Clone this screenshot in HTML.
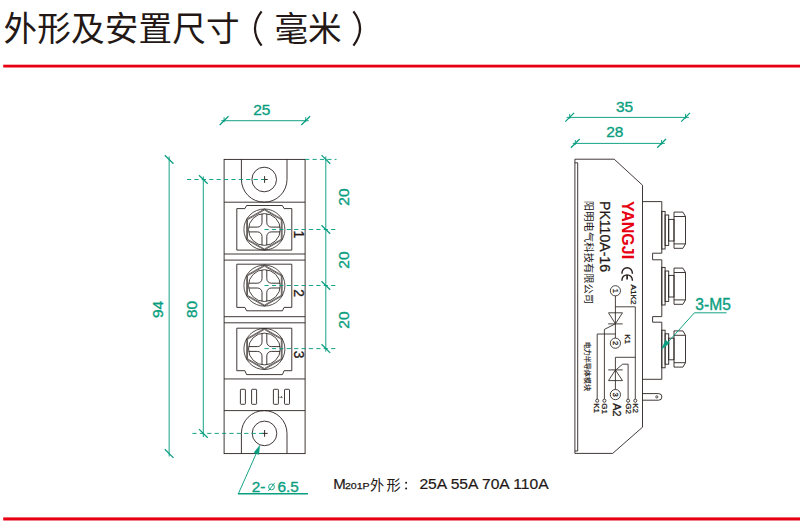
<!DOCTYPE html>
<html lang="zh"><head><meta charset="utf-8"><title>外形及安置尺寸</title>
<style>
html,body{margin:0;padding:0;background:#fff;}
body{width:800px;height:531px;overflow:hidden;}
svg{display:block;font-family:"Liberation Sans",sans-serif;}
</style></head><body>
<svg width="800" height="531" viewBox="0 0 800 531">
<rect width="800" height="531" fill="#fff"/>
<text x="3.5" y="41" font-size="33.6" fill="#231815" text-anchor="start" textLength="236" lengthAdjust="spacing" font-family="&quot;Liberation Sans&quot;, &quot;Noto Sans CJK SC&quot;, sans-serif">外形及安置尺寸</text>
<text x="274.5" y="41" font-size="33.6" fill="#231815" text-anchor="start" textLength="67" lengthAdjust="spacing" font-family="&quot;Liberation Sans&quot;, &quot;Noto Sans CJK SC&quot;, sans-serif">毫米</text>
<path d="M261.6 11.4Q248.3 28.5 261.6 45.6" stroke="#231815" stroke-width="2.2" fill="none" stroke-linecap="butt"/>
<path d="M353.4 11.4Q366.7 28.5 353.4 45.6" stroke="#231815" stroke-width="2.2" fill="none" stroke-linecap="butt"/>
<rect x="3.2" y="64.7" width="797" height="2.8" fill="#e60012"/>
<rect x="3.2" y="517.4" width="797" height="3.1" fill="#e60012"/>
<rect x="224.1" y="159.4" width="81" height="294.2" fill="none" stroke="#2a2320" stroke-width="0.9"/>
<line x1="224.1" y1="202.2" x2="305.1" y2="202.2" stroke="#2a2320" stroke-width="0.9" />
<line x1="224.1" y1="254" x2="305.1" y2="254" stroke="#2a2320" stroke-width="0.9" />
<line x1="224.1" y1="260.1" x2="305.1" y2="260.1" stroke="#2a2320" stroke-width="0.9" />
<line x1="224.1" y1="316.7" x2="305.1" y2="316.7" stroke="#2a2320" stroke-width="0.9" />
<line x1="224.1" y1="322.8" x2="305.1" y2="322.8" stroke="#2a2320" stroke-width="0.9" />
<line x1="224.1" y1="378.95" x2="305.1" y2="378.95" stroke="#2a2320" stroke-width="0.9" />
<line x1="224.1" y1="410.6" x2="305.1" y2="410.6" stroke="#2a2320" stroke-width="0.9" />
<path d="M241.4 159.4V179.4A22.8 22.8 0 0 0 287 179.4V159.4" stroke="#2a2320" stroke-width="0.9" fill="none" />
<path d="M241.4 453.6V433.4A22.8 22.8 0 0 1 287 433.4V453.6" stroke="#2a2320" stroke-width="0.9" fill="none" />
<circle cx="264.2" cy="179.5" r="12.3" stroke="#2a2320" stroke-width="0.9" fill="none"/>
<circle cx="264.5" cy="433.4" r="12.3" stroke="#2a2320" stroke-width="0.9" fill="none"/>
<line x1="261.5" y1="179.5" x2="267.7" y2="179.5" stroke="#2a2320" stroke-width="0.95" />
<line x1="264.6" y1="176.1" x2="264.6" y2="182.9" stroke="#2a2320" stroke-width="0.95" />
<line x1="261.5" y1="433.4" x2="267.7" y2="433.4" stroke="#2a2320" stroke-width="0.95" />
<line x1="264.6" y1="430" x2="264.6" y2="436.8" stroke="#2a2320" stroke-width="0.95" />
<path d="M236.8 208.6H244.9L246.6 205.5H282.4L284.1 208.6H291.8V250.1H236.8Z" stroke="#2a2320" stroke-width="0.9" fill="none" />
<path d="M236.8 264.2H291.8V307.4H284.1L282.4 310.8H246.6L244.9 307.4H236.8Z" stroke="#2a2320" stroke-width="0.9" fill="none" />
<path d="M236.8 328.2H291.8V370.7H284.1L282.4 374.6H246.6L244.9 370.7H236.8Z" stroke="#2a2320" stroke-width="0.9" fill="none" />
<circle cx="264.4" cy="229.5" r="20.5" stroke="#2a2320" stroke-width="0.8" fill="none"/>
<path d="M264.4 209L282.15 219.25L282.15 239.75L264.4 250L246.65 239.75L246.65 219.25Z" stroke="#2a2320" stroke-width="0.7" fill="none" />
<path d="M264.4 210L281.29 219.75L281.29 239.25L264.4 249L247.51 239.25L247.51 219.75Z" stroke="#2a2320" stroke-width="0.7" fill="none" />
<circle cx="264.4" cy="229.5" r="15.9" stroke="#2a2320" stroke-width="0.85" fill="none"/>
<path d="M266.8 245.2L266.8 236.4A4.5 4.5 0 0 1 271.3 231.9L280.1 231.9M262 245.2L262 236.4A4.5 4.5 0 0 0 257.5 231.9L248.7 231.9M262 213.8L262 222.6A4.5 4.5 0 0 1 257.5 227.1L248.7 227.1M266.8 213.8L266.8 222.6A4.5 4.5 0 0 0 271.3 227.1L280.1 227.1" stroke="#2a2320" stroke-width="0.9" fill="none" />
<circle cx="264.4" cy="285.6" r="20.5" stroke="#2a2320" stroke-width="0.8" fill="none"/>
<path d="M264.4 265.1L282.15 275.35L282.15 295.85L264.4 306.1L246.65 295.85L246.65 275.35Z" stroke="#2a2320" stroke-width="0.7" fill="none" />
<path d="M264.4 266.1L281.29 275.85L281.29 295.35L264.4 305.1L247.51 295.35L247.51 275.85Z" stroke="#2a2320" stroke-width="0.7" fill="none" />
<circle cx="264.4" cy="285.6" r="15.9" stroke="#2a2320" stroke-width="0.85" fill="none"/>
<path d="M266.8 301.3L266.8 292.5A4.5 4.5 0 0 1 271.3 288L280.1 288M262 301.3L262 292.5A4.5 4.5 0 0 0 257.5 288L248.7 288M262 269.9L262 278.7A4.5 4.5 0 0 1 257.5 283.2L248.7 283.2M266.8 269.9L266.8 278.7A4.5 4.5 0 0 0 271.3 283.2L280.1 283.2" stroke="#2a2320" stroke-width="0.9" fill="none" />
<circle cx="264.4" cy="349" r="20.5" stroke="#2a2320" stroke-width="0.8" fill="none"/>
<path d="M264.4 328.5L282.15 338.75L282.15 359.25L264.4 369.5L246.65 359.25L246.65 338.75Z" stroke="#2a2320" stroke-width="0.7" fill="none" />
<path d="M264.4 329.5L281.29 339.25L281.29 358.75L264.4 368.5L247.51 358.75L247.51 339.25Z" stroke="#2a2320" stroke-width="0.7" fill="none" />
<circle cx="264.4" cy="349" r="15.9" stroke="#2a2320" stroke-width="0.85" fill="none"/>
<path d="M266.8 364.7L266.8 355.9A4.5 4.5 0 0 1 271.3 351.4L280.1 351.4M262 364.7L262 355.9A4.5 4.5 0 0 0 257.5 351.4L248.7 351.4M262 333.3L262 342.1A4.5 4.5 0 0 1 257.5 346.6L248.7 346.6M266.8 333.3L266.8 342.1A4.5 4.5 0 0 0 271.3 346.6L280.1 346.6" stroke="#2a2320" stroke-width="0.9" fill="none" />
<rect x="240.4" y="389.3" width="5.0" height="15.0" rx="0.7" fill="none" stroke="#2a2320" stroke-width="0.9"/>
<rect x="251.6" y="389.3" width="5.0" height="15.0" rx="0.7" fill="none" stroke="#2a2320" stroke-width="0.9"/>
<rect x="273.4" y="389.3" width="5.0" height="15.0" rx="0.7" fill="none" stroke="#2a2320" stroke-width="0.9"/>
<rect x="284.5" y="389.3" width="5.0" height="15.0" rx="0.7" fill="none" stroke="#2a2320" stroke-width="0.9"/>
<path d="M280.5 397.6L281.4 396.2L282.4 397.6Z" stroke="#2a2320" stroke-width="0.4" fill="#2a2320" />
<line x1="278.4" y1="397.3" x2="279.6" y2="397.3" stroke="#2a2320" stroke-width="0.7" />
<text x="294" y="234.4" font-size="13.8" fill="#231815" text-anchor="middle" font-weight="normal" transform="rotate(90 294 234.4)" stroke="#231815" stroke-width="0.3">1</text>
<text x="294" y="293" font-size="13.8" fill="#231815" text-anchor="middle" font-weight="normal" transform="rotate(90 294 293)" stroke="#231815" stroke-width="0.3">2</text>
<text x="294" y="354.5" font-size="13.8" fill="#231815" text-anchor="middle" font-weight="normal" transform="rotate(90 294 354.5)" stroke="#231815" stroke-width="0.3">3</text>
<line x1="221.3" y1="120.7" x2="308.8" y2="120.7" stroke="#0a9e80" stroke-width="0.95" />
<line x1="219.7" y1="125" x2="228.5" y2="116.3" stroke="#0a9e80" stroke-width="1.25" />
<line x1="224.1" y1="117.3" x2="224.1" y2="122.1" stroke="#0a9e80" stroke-width="0.95" />
<line x1="301.3" y1="125" x2="310.1" y2="116.3" stroke="#0a9e80" stroke-width="1.25" />
<line x1="305.7" y1="117.3" x2="305.7" y2="122.1" stroke="#0a9e80" stroke-width="0.95" />
<text x="261.8" y="114.9" font-size="15.5" fill="#0a9e80" text-anchor="middle" font-weight="normal"  stroke="#0a9e80" stroke-width="0.35">25</text>
<line x1="169.15" y1="156.4" x2="169.15" y2="456.5" stroke="#0a9e80" stroke-width="0.95" />
<line x1="164.8" y1="155.2" x2="173.5" y2="163.8" stroke="#0a9e80" stroke-width="1.25" />
<line x1="164.8" y1="449.3" x2="173.5" y2="457.9" stroke="#0a9e80" stroke-width="1.25" />
<text x="163.3" y="309.4" font-size="15.5" fill="#0a9e80" text-anchor="middle" font-weight="normal" transform="rotate(-90 163.3 309.4)"  stroke="#0a9e80" stroke-width="0.35">94</text>
<line x1="203.3" y1="176.4" x2="203.3" y2="437" stroke="#0a9e80" stroke-width="0.95" />
<line x1="199" y1="175.2" x2="207.7" y2="183.8" stroke="#0a9e80" stroke-width="1.25" />
<line x1="199" y1="429.1" x2="207.7" y2="437.7" stroke="#0a9e80" stroke-width="1.25" />
<text x="197.2" y="309.4" font-size="15.5" fill="#0a9e80" text-anchor="middle" font-weight="normal" transform="rotate(-90 197.2 309.4)"  stroke="#0a9e80" stroke-width="0.35">80</text>
<line x1="187" y1="179.5" x2="264.5" y2="179.5" stroke="#0a9e80" stroke-width="0.95" stroke-dasharray="4.2 3.2"/>
<line x1="192.4" y1="433.4" x2="264.5" y2="433.4" stroke="#0a9e80" stroke-width="0.95" stroke-dasharray="4.2 3.2"/>
<line x1="325.8" y1="156.4" x2="325.8" y2="351.6" stroke="#0a9e80" stroke-width="0.95" />
<line x1="321.5" y1="155.1" x2="330.2" y2="163.7" stroke="#0a9e80" stroke-width="1.25" />
<line x1="321.5" y1="225.2" x2="330.2" y2="233.8" stroke="#0a9e80" stroke-width="1.25" />
<line x1="321.5" y1="281.2" x2="330.2" y2="289.8" stroke="#0a9e80" stroke-width="1.25" />
<line x1="321.5" y1="344.3" x2="330.2" y2="352.9" stroke="#0a9e80" stroke-width="1.25" />
<line x1="305.1" y1="159.4" x2="336.5" y2="159.4" stroke="#0a9e80" stroke-width="0.95" stroke-dasharray="4.2 3.2"/>
<line x1="264.5" y1="229.5" x2="336.5" y2="229.5" stroke="#0a9e80" stroke-width="0.95" stroke-dasharray="4.2 3.2"/>
<line x1="264.5" y1="285.5" x2="336.5" y2="285.5" stroke="#0a9e80" stroke-width="0.95" stroke-dasharray="4.2 3.2"/>
<line x1="264.5" y1="348.6" x2="336.5" y2="348.6" stroke="#0a9e80" stroke-width="0.95" stroke-dasharray="4.2 3.2"/>
<text x="349" y="197" font-size="15.5" fill="#0a9e80" text-anchor="middle" font-weight="normal" transform="rotate(-90 349 197)"  stroke="#0a9e80" stroke-width="0.35">20</text>
<text x="349" y="260" font-size="15.5" fill="#0a9e80" text-anchor="middle" font-weight="normal" transform="rotate(-90 349 260)"  stroke="#0a9e80" stroke-width="0.35">20</text>
<text x="349" y="320" font-size="15.5" fill="#0a9e80" text-anchor="middle" font-weight="normal" transform="rotate(-90 349 320)"  stroke="#0a9e80" stroke-width="0.35">20</text>
<path d="M238.4 493.7L258.0 449.5" stroke="#0a9e80" stroke-width="0.95" fill="none" />
<line x1="237.9" y1="493.7" x2="308" y2="493.7" stroke="#0a9e80" stroke-width="1.5" />
<path d="M259.9 445.2L258.7 454.6L254.0 452.5Z" stroke="#0a9e80" stroke-width="0.4" fill="#0a9e80" />
<text x="251.7" y="491.9" font-size="15.4" fill="#0a9e80" text-anchor="start" font-weight="normal"  stroke="#0a9e80" stroke-width="0.35">2-</text>
<circle cx="271.5" cy="486.9" r="2.9" stroke="#0a9e80" stroke-width="0.9" fill="none"/>
<line x1="268.3" y1="491" x2="274.7" y2="482.8" stroke="#0a9e80" stroke-width="0.9" />
<text x="277.4" y="491.9" font-size="15.4" fill="#0a9e80" text-anchor="start" font-weight="normal"  stroke="#0a9e80" stroke-width="0.35">6.5</text>
<text x="333.2" y="488.9" font-size="15" fill="#231815" text-anchor="start" font-weight="normal" stroke="#231815" stroke-width="0.2">M</text>
<text x="344.9" y="488.9" font-size="9.4" fill="#231815" text-anchor="start" font-weight="normal" textLength="24.8" lengthAdjust="spacingAndGlyphs" stroke="#231815" stroke-width="0.25">201P</text>
<text x="370" y="489.5" font-size="14.2" fill="#231815" text-anchor="start" textLength="30.6" lengthAdjust="spacing" font-family="&quot;Liberation Sans&quot;, &quot;Noto Sans CJK SC&quot;, sans-serif">外形</text>
<circle cx="406.1" cy="482.8" r="1.0" fill="#231815"/><circle cx="406.1" cy="488.5" r="1.0" fill="#231815"/>
<text x="419.4" y="488.9" font-size="15" fill="#231815" text-anchor="start" font-weight="normal" textLength="129.2" lengthAdjust="spacingAndGlyphs" stroke="#231815" stroke-width="0.2">25A 55A 70A 110A</text>
<path d="M574.9 159.2H614.2L642.5 185.2V427.2L612.7 453.4H574.9Z" stroke="#2a2320" stroke-width="0.9" fill="none" />
<path d="M574.9 162.8H577.7V451H574.9" stroke="#2a2320" stroke-width="0.9" fill="none" />
<path d="M642.5 201.6H661.8V253.2H652.6V259.8H661.8V316.6H652.6V322.2H661.8V379.3H642.5" stroke="#2a2320" stroke-width="0.9" fill="none" />
<rect x="661.8" y="211.4" width="3.3" height="37.6" fill="none" stroke="#2a2320" stroke-width="0.9"/>
<rect x="665.1" y="215" width="3.6" height="30.4" fill="none" stroke="#2a2320" stroke-width="0.9"/>
<rect x="668.7" y="219.4" width="5.3" height="21.6" fill="none" stroke="#2a2320" stroke-width="0.9"/>
<path d="M674 212.1H682.9L685.5 216.5V243.9L682.9 248.3H674Z" stroke="#2a2320" stroke-width="0.9" fill="none" />
<line x1="674" y1="216.5" x2="685.5" y2="216.5" stroke="#2a2320" stroke-width="0.9" />
<line x1="674" y1="243.9" x2="685.5" y2="243.9" stroke="#2a2320" stroke-width="0.9" />
<rect x="661.8" y="267.4" width="3.3" height="37.6" fill="none" stroke="#2a2320" stroke-width="0.9"/>
<rect x="665.1" y="271" width="3.6" height="30.4" fill="none" stroke="#2a2320" stroke-width="0.9"/>
<rect x="668.7" y="275.4" width="5.3" height="21.6" fill="none" stroke="#2a2320" stroke-width="0.9"/>
<path d="M674 268.1H682.9L685.5 272.5V299.9L682.9 304.3H674Z" stroke="#2a2320" stroke-width="0.9" fill="none" />
<line x1="674" y1="272.5" x2="685.5" y2="272.5" stroke="#2a2320" stroke-width="0.9" />
<line x1="674" y1="299.9" x2="685.5" y2="299.9" stroke="#2a2320" stroke-width="0.9" />
<rect x="661.8" y="330.2" width="3.3" height="37.6" fill="none" stroke="#2a2320" stroke-width="0.9"/>
<rect x="665.1" y="333.8" width="3.6" height="30.4" fill="none" stroke="#2a2320" stroke-width="0.9"/>
<rect x="668.7" y="338.2" width="5.3" height="21.6" fill="none" stroke="#2a2320" stroke-width="0.9"/>
<path d="M674 330.9H682.9L685.5 335.3V362.7L682.9 367.1H674Z" stroke="#2a2320" stroke-width="0.9" fill="none" />
<line x1="674" y1="335.3" x2="685.5" y2="335.3" stroke="#2a2320" stroke-width="0.9" />
<line x1="674" y1="362.7" x2="685.5" y2="362.7" stroke="#2a2320" stroke-width="0.9" />
<path d="M642.5 393.6H658.6A3.3 3.3 0 0 1 658.6 400.2H642.5" stroke="#2a2320" stroke-width="0.9" fill="none" />
<circle cx="656.8" cy="396.9" r="1.1" stroke="#2a2320" stroke-width="0.8" fill="none"/>
<line x1="566.6" y1="117.4" x2="688.8" y2="117.4" stroke="#0a9e80" stroke-width="0.95" />
<line x1="565.3" y1="121.6" x2="574.1" y2="112.9" stroke="#0a9e80" stroke-width="1.25" />
<line x1="569.7" y1="113.9" x2="569.7" y2="118.7" stroke="#0a9e80" stroke-width="0.95" />
<line x1="681.2" y1="121.6" x2="690" y2="112.9" stroke="#0a9e80" stroke-width="1.25" />
<line x1="685.6" y1="113.9" x2="685.6" y2="118.7" stroke="#0a9e80" stroke-width="0.95" />
<text x="624.6" y="111.8" font-size="15.5" fill="#0a9e80" text-anchor="middle" font-weight="normal"  stroke="#0a9e80" stroke-width="0.35">35</text>
<line x1="572.8" y1="143.4" x2="664.8" y2="143.4" stroke="#0a9e80" stroke-width="0.95" />
<line x1="570.9" y1="147.7" x2="579.7" y2="139" stroke="#0a9e80" stroke-width="1.25" />
<line x1="575.3" y1="140" x2="575.3" y2="144.8" stroke="#0a9e80" stroke-width="0.95" />
<line x1="657.2" y1="147.7" x2="666" y2="139" stroke="#0a9e80" stroke-width="1.25" />
<line x1="661.6" y1="140" x2="661.6" y2="144.8" stroke="#0a9e80" stroke-width="0.95" />
<text x="614.8" y="137.2" font-size="15.5" fill="#0a9e80" text-anchor="middle" font-weight="normal"  stroke="#0a9e80" stroke-width="0.35">28</text>
<text x="695.3" y="309.9" font-size="15.6" fill="#0a9e80" text-anchor="start" font-weight="normal"  stroke="#0a9e80" stroke-width="0.35">3-M5</text>
<path d="M726.6 312.8H694.4L664.5 346" stroke="#0a9e80" stroke-width="0.95" fill="none" />
<path d="M661.5 349.3L665.6 339.9L669.4 343.3Z" stroke="#0a9e80" stroke-width="0.4" fill="#0a9e80" />
<text x="621.7" y="201" font-size="16" fill="#e60012" text-anchor="start" font-weight="bold" transform="rotate(90 621.7 201)" >YANGJI</text>
<text x="600.3" y="201" font-size="14.1" fill="#231815" text-anchor="start" font-weight="normal" transform="rotate(90 600.3 201)" stroke="#231815" stroke-width="0.25">PK110A-16</text>
<text x="585" y="200.8" font-size="10.2" fill="#231815" text-anchor="start" textLength="103.5" lengthAdjust="spacing" transform="rotate(90 585 200.8)" font-family="&quot;Liberation Sans&quot;, &quot;Noto Sans CJK SC&quot;, sans-serif">阳明电气科技有限公司</text>
<text x="584.6" y="341.7" font-size="7" fill="#231815" text-anchor="start" textLength="49.2" lengthAdjust="spacing" transform="rotate(90 584.6 341.7)" stroke="#231815" stroke-width="0.15" font-family="&quot;Liberation Sans&quot;, &quot;Noto Sans CJK SC&quot;, sans-serif">电力半导体模块</text>
<path d="M621.95 273.7V272.9A5.2 5.2 0 0 1 632.35 272.9V273.7M621.95 280.7V280A5.2 5.2 0 0 1 632.35 280V280.7" stroke="#231815" stroke-width="1.35" fill="none" />
<path d="M627.1 274.9V279.6" stroke="#231815" stroke-width="1.6" fill="none" />
<circle cx="615.4" cy="290.8" r="5.1" stroke="#2a2320" stroke-width="0.85" fill="none"/>
<text x="612.65" y="290.8" font-size="7.6" fill="#231815" text-anchor="middle" font-weight="normal" transform="rotate(90 612.65 290.8)" stroke="#231815" stroke-width="0.28">1</text>
<circle cx="615.4" cy="343.2" r="5.1" stroke="#2a2320" stroke-width="0.85" fill="none"/>
<text x="612.65" y="343.2" font-size="7.6" fill="#231815" text-anchor="middle" font-weight="normal" transform="rotate(90 612.65 343.2)" stroke="#231815" stroke-width="0.28">2</text>
<circle cx="615.4" cy="394.6" r="5.1" stroke="#2a2320" stroke-width="0.85" fill="none"/>
<text x="612.65" y="394.6" font-size="7.6" fill="#231815" text-anchor="middle" font-weight="normal" transform="rotate(90 612.65 394.6)" stroke="#231815" stroke-width="0.28">3</text>
<path d="M615.4 295.9V338.1M615.4 306.8H635.3V399" stroke="#2a2320" stroke-width="0.85" fill="none" />
<path d="M608.5 312.8H622.5L615.4 323.8Z" stroke="#2a2320" stroke-width="0.85" fill="none" />
<path d="M608.1 323.9H622.7" stroke="#2a2320" stroke-width="0.85" fill="none" />
<path d="M614.8 324.1L604.4 329.4V399" stroke="#2a2320" stroke-width="0.85" fill="none" />
<path d="M615.4 334H597.2V399" stroke="#2a2320" stroke-width="0.85" fill="none" />
<path d="M635.3 357.3H615.4V389.5" stroke="#2a2320" stroke-width="0.85" fill="none" />
<path d="M608.2 369.9H622.7" stroke="#2a2320" stroke-width="0.85" fill="none" />
<path d="M615.4 370L622.5 380.6H608.5Z" stroke="#2a2320" stroke-width="0.85" fill="none" />
<path d="M616.2 369.7L622.6 364.2H628.1V399" stroke="#2a2320" stroke-width="0.85" fill="none" />
<circle cx="597.2" cy="400.7" r="1.55" stroke="#2a2320" stroke-width="0.85" fill="#fff"/>
<circle cx="604.4" cy="400.7" r="1.55" stroke="#2a2320" stroke-width="0.85" fill="#fff"/>
<circle cx="628.1" cy="400.7" r="1.55" stroke="#2a2320" stroke-width="0.85" fill="#fff"/>
<circle cx="635.3" cy="400.7" r="1.55" stroke="#2a2320" stroke-width="0.85" fill="#fff"/>
<text x="630.6" y="284.6" font-size="8.1" fill="#231815" text-anchor="start" font-weight="normal" transform="rotate(90 630.6 284.6)" stroke="#231815" stroke-width="0.28">A1K2</text>
<text x="625.2" y="334.2" font-size="8.0" fill="#231815" text-anchor="start" font-weight="normal" transform="rotate(90 625.2 334.2)" stroke="#231815" stroke-width="0.28">K1</text>
<text x="594.3" y="403.2" font-size="8.0" fill="#231815" text-anchor="start" font-weight="normal" transform="rotate(90 594.3 403.2)" stroke="#231815" stroke-width="0.28">K1</text>
<text x="601.8" y="403.2" font-size="8.0" fill="#231815" text-anchor="start" font-weight="normal" transform="rotate(90 601.8 403.2)" stroke="#231815" stroke-width="0.28">G1</text>
<text x="612.7" y="403.2" font-size="10.8" fill="#231815" text-anchor="start" font-weight="normal" transform="rotate(90 612.7 403.2)" stroke="#231815" stroke-width="0.3">A2</text>
<text x="626" y="403.2" font-size="8.0" fill="#231815" text-anchor="start" font-weight="normal" transform="rotate(90 626 403.2)" stroke="#231815" stroke-width="0.28">G2</text>
<text x="633.2" y="403.2" font-size="8.0" fill="#231815" text-anchor="start" font-weight="normal" transform="rotate(90 633.2 403.2)" stroke="#231815" stroke-width="0.28">K2</text>
</svg>
</body></html>
